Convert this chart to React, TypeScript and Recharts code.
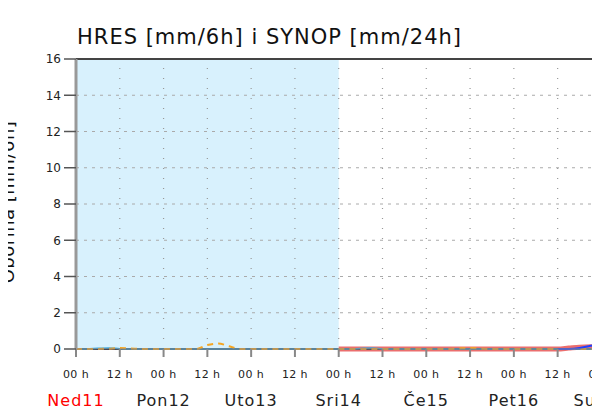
import React from "react";
import {
  ComposedChart,
  Line,
  XAxis,
  YAxis,
  ReferenceArea,
  ReferenceLine,
} from "recharts";

// hours from Ned11 00h, 3h steps
const hours = [
  0, 3, 6, 9, 12, 15, 18, 21, 24, 27, 30, 33, 36, 39, 42, 45, 48, 51, 54, 57,
  60, 63, 66, 69, 72, 75, 78, 81, 84, 87, 90, 93, 96, 99, 102, 105, 108, 111,
  114, 117, 120, 123, 126, 129, 132, 135, 138, 141, 144, 147, 150, 153, 156,
  159, 162, 165, 168,
];
const orangeDashed = [
  0, 0, 0, 0.02, 0.05, 0.03, 0, 0, 0, 0, 0, 0, 0.22, 0.3, 0.15, 0, 0, 0, 0, 0,
  0, 0, 0, 0, 0, 0, 0, 0, 0, 0, 0, 0, 0, 0, 0, 0.03, 0.05, 0.02, 0, 0, 0, 0, 0,
  0, 0, 0, 0, 0, 0, 0, 0, 0, 0, 0, 0, 0, 0,
];
const cyanLine = [
  0, 0, 0.04, 0.06, 0.02, 0, 0, 0, 0, 0, 0, 0, 0, 0, 0, 0, 0, 0, 0, 0, 0, 0, 0,
  0, 0, 0, 0.03, 0.05, 0.02, 0, 0, 0, 0, 0, 0, 0, 0, 0, 0, 0, 0, 0, 0, 0, 0, 0,
  0, 0, 0, 0, 0, 0, 0, 0, 0, 0, 0,
];
const navyLine = [
  0, 0, 0, 0, 0, 0, 0, 0, 0, 0, 0, 0, 0, 0, 0, 0, 0, 0, 0, 0, 0, 0, 0, 0, 0,
];
const blackLine = hours.map(() => 0);
// red from hour 72 onward
const redLine = [
  0, 0, 0, 0, 0, 0, 0, 0, 0, 0, 0, 0, 0, 0, 0, 0, 0, 0, 0, 0, 0, 0.05, 0.1,
  0.12, 0.12, 0.12, 0.12, 0.12, 0.12, 0.12, 0.12, 0.12,
];
// blue from hour 132 onward
const blueLine = [0, 0, 0.05, 0.18, 0.28, 0.3, 0.3, 0.3, 0.3, 0.3, 0.3, 0.3, 0.3];

const dayLabels = ["Ned11", "Pon12", "Uto13", "Sri14", "Če15", "Pet16", "Sub17", "Ned18"];
const xTicks = [0, 12, 24, 36, 48, 60, 72, 84, 96, 108, 120, 132, 144, 156, 168];
const yTicks = [0, 2, 4, 6, 8, 10, 12, 14, 16];
const hGrid = [2, 4, 6, 8, 10, 12, 14];
const vGrid = [12, 24, 36, 48, 60, 72, 84, 96, 108, 120, 132, 144, 156, 168];

const data = hours.map((h, i) => ({
  h,
  orange: orangeDashed[i],
  cyan: cyanLine[i],
  navy: i < navyLine.length ? navyLine[i] : null,
  black: blackLine[i],
  red: h >= 72 ? redLine[i - 24] : null,
  blue: h >= 132 ? blueLine[i - 44] : null,
}));

const FONT = "DejaVu Sans";

const XTick = (props: any) => {
  const { x, y, payload } = props;
  const v = payload.value as number;
  const isDay = v % 24 === 0;
  const dayIdx = Math.round(v / 24);
  return (
    <g>
      <text
        x={x}
        y={y + 21}
        textAnchor="middle"
        fontFamily={FONT}
        fontSize={11}
        letterSpacing={0.4}
        fill="#222"
      >
        {isDay ? "00 h" : "12 h"}
      </text>
      {isDay && (
        <text
          x={x}
          y={y + 49}
          textAnchor="middle"
          fontFamily={FONT}
          fontSize={16}
          letterSpacing={1}
          fill={dayIdx === 0 ? "#ff0000" : "#222"}
        >
          {dayLabels[dayIdx]}
        </text>
      )}
    </g>
  );
};

export default function App() {
  return (
    <div
      style={{
        position: "relative",
        margin: -8,
        width: 592,
        height: 418,
        overflow: "hidden",
        background: "#fff",
      }}
    >
      <ComposedChart
        width={700}
        height={418}
        data={data}
        margin={{ top: 59, right: 11, bottom: 9, left: 16 }}
      >
        <ReferenceArea x1={0} x2={72} y1={0} y2={16} fill="#d8f1fd" fillOpacity={1} stroke="none" />
        {hGrid.map((v) => (
          <ReferenceLine key={"h" + v} y={v} stroke="#aaa" strokeDasharray="3 5" strokeWidth={1} />
        ))}
        {vGrid.map((v) => (
          <ReferenceLine key={"v" + v} x={v} stroke="#999" strokeDasharray="1 9" strokeWidth={1.2} />
        ))}
        <ReferenceLine y={16} stroke="#444" strokeWidth={2} />
        <XAxis
          dataKey="h"
          type="number"
          domain={[0, 168]}
          ticks={xTicks}
          interval={0}
          height={60}
          tickSize={8}
          tickMargin={0}
          tickLine={{ stroke: "#888", strokeWidth: 2 }}
          axisLine={{ stroke: "#888", strokeWidth: 1 }}
          tick={<XTick />}
        />
        <YAxis
          type="number"
          domain={[0, 16]}
          ticks={yTicks}
          interval={0}
          width={60}
          tickSize={12}
          tickMargin={3}
          tickLine={{ stroke: "#555", strokeWidth: 1.5 }}
          axisLine={{ stroke: "#999", strokeWidth: 3 }}
          tick={{ fontFamily: FONT, fontSize: 12, fill: "#222" }}
        />
        <Line dataKey="red" type="monotone" stroke="#e02020" strokeOpacity={0.65} strokeWidth={5} dot={false} isAnimationActive={false} connectNulls={false} />
        <Line dataKey="navy" type="monotone" stroke="#1a1a70" strokeWidth={2} dot={false} isAnimationActive={false} />
        <Line dataKey="black" type="monotone" stroke="#000" strokeWidth={1.5} dot={false} isAnimationActive={false} />
        <Line dataKey="cyan" type="monotone" stroke="#3aa8e0" strokeWidth={1.5} dot={false} isAnimationActive={false} />
        <Line dataKey="orange" type="monotone" stroke="#f5a623" strokeWidth={2} strokeDasharray="6 5" dot={false} isAnimationActive={false} />
        <Line dataKey="blue" type="monotone" stroke="#2040ff" strokeWidth={2} dot={false} isAnimationActive={false} />
      </ComposedChart>
      <svg
        width={592}
        height={418}
        style={{ position: "absolute", left: 0, top: 0, pointerEvents: "none" }}
      >
        <text x={77} y={44} fontFamily={FONT} fontSize={21} letterSpacing={1} fill="#111">
          HRES [mm/6h] i SYNOP [mm/24h]
        </text>
        <text
          x={0}
          y={0}
          transform="translate(14,202) rotate(-90)"
          textAnchor="middle"
          fontFamily={FONT}
          fontSize={18}
          letterSpacing={0.5}
          fill="#111"
        >
          Oborina [mm/6h]
        </text>
      </svg>
    </div>
  );
}
